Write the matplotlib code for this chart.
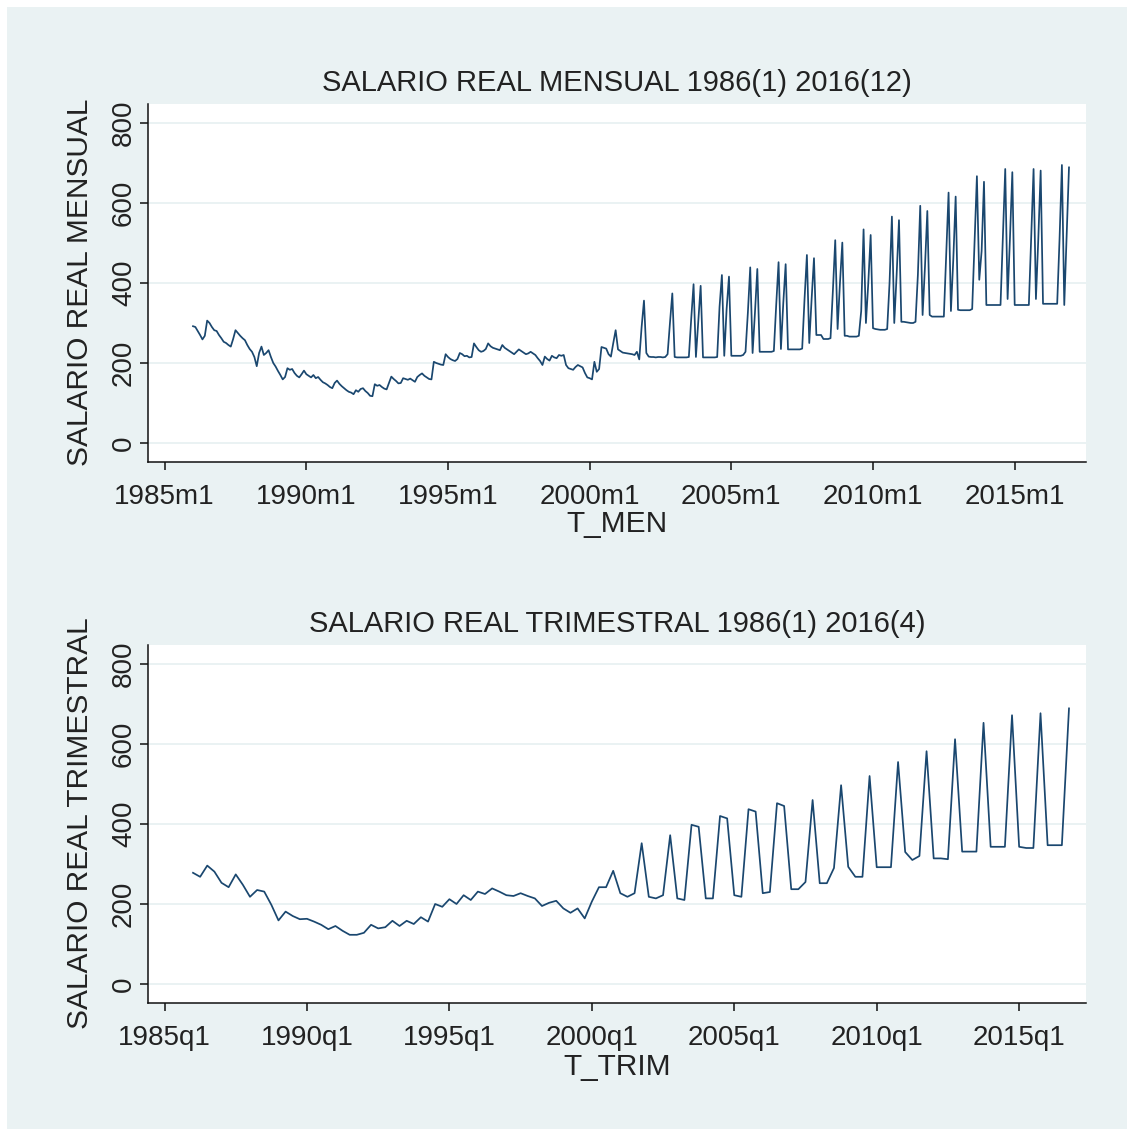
import numpy as np
import matplotlib
matplotlib.use("Agg")
import matplotlib.pyplot as plt
from matplotlib.patches import Rectangle

# monthly real wage, one list per year (Jan..Dec)
men_1986 = [292, 290, 280, 270, 259, 268, 306, 300, 290, 282, 280, 270]
men_1987 = [262, 253, 250, 245, 241, 260, 282, 275, 268, 262, 257, 245]
men_1988 = [235, 228, 215, 192, 225, 241, 220, 225, 232, 215, 200, 191]
men_1989 = [180, 170, 159, 165, 187, 183, 185, 175, 168, 164, 172, 181]
men_1990 = [172, 168, 164, 170, 162, 165, 158, 152, 149, 145, 140, 137]
men_1991 = [150, 156, 148, 142, 137, 132, 128, 126, 122, 132, 128, 135]
men_1992 = [137, 130, 125, 118, 117, 147, 143, 145, 140, 136, 134, 150]
men_1993 = [166, 160, 155, 149, 150, 162, 160, 158, 161, 157, 153, 165]
men_1994 = [170, 174, 168, 164, 160, 159, 203, 200, 198, 196, 195, 222]
men_1995 = [215, 210, 207, 205, 210, 225, 222, 217, 218, 214, 215, 249]
men_1996 = [240, 232, 228, 230, 235, 249, 242, 238, 236, 234, 232, 245]
men_1997 = [238, 234, 230, 226, 222, 228, 234, 230, 226, 222, 224, 228]
men_1998 = [224, 220, 212, 205, 195, 216, 210, 206, 218, 214, 212, 220]
men_1999 = [218, 220, 195, 187, 185, 183, 190, 195, 192, 189, 175, 164]
men_2000 = [162, 159, 203, 178, 185, 240, 238, 236, 222, 216, 250, 282]
men_2001 = [234, 230, 226, 225, 224, 223, 222, 220, 228, 209, 290, 356]
men_2002 = [225, 216, 215, 215, 214, 215, 215, 214, 215, 222, 300, 374]
men_2003 = [215, 214, 214, 214, 214, 214, 215, 310, 397, 215, 305, 393]
men_2004 = [214, 214, 214, 214, 214, 214, 215, 340, 420, 218, 335, 416]
men_2005 = [218, 218, 218, 218, 218, 220, 228, 326, 439, 225, 326, 435]
men_2006 = [228, 228, 228, 228, 228, 228, 230, 345, 452, 235, 350, 447]
men_2007 = [234, 234, 234, 234, 234, 234, 236, 360, 470, 250, 360, 462]
men_2008 = [270, 270, 270, 260, 260, 260, 262, 380, 507, 285, 400, 501]
men_2009 = [268, 268, 266, 266, 266, 266, 268, 330, 534, 300, 400, 520]
men_2010 = [287, 285, 284, 283, 283, 283, 285, 400, 566, 300, 420, 557]
men_2011 = [303, 303, 302, 301, 300, 300, 303, 420, 593, 320, 440, 580]
men_2012 = [320, 316, 316, 316, 316, 316, 316, 470, 626, 330, 459, 616]
men_2013 = [333, 332, 332, 332, 332, 332, 335, 499, 667, 408, 480, 653]
men_2014 = [345, 345, 345, 345, 345, 345, 345, 512, 685, 360, 512, 677]
men_2015 = [345, 345, 345, 345, 345, 345, 345, 515, 685, 360, 510, 681]
men_2016 = [348, 348, 348, 348, 348, 348, 348, 510, 695, 345, 520, 689]

# quarterly real wage (q1..q4 per year)
trim_1986_1995 = [278, 268, 296, 281,  253, 242, 274, 248,  218, 235, 231, 198,
                  159, 181, 170, 162,  163, 156, 148, 137,  145, 133, 123, 123,
                  128, 148, 139, 142,  158, 145, 158, 150,  167, 156, 200, 193,
                  212, 200, 222, 210]
trim_1996_2005 = [231, 225, 239, 231,  222, 220, 227, 220,  214, 195, 203, 208,
                  189, 178, 189, 164,  206, 242, 242, 283,  227, 218, 227, 352,
                  218, 214, 222, 372,  214, 210, 398, 393,  214, 214, 420, 414,
                  222, 218, 437, 431]
trim_2006_2016 = [227, 230, 452, 445,  237, 237, 255, 460,  252, 252, 290, 497,
                  293, 268, 268, 520,  292, 292, 292, 555,  330, 310, 320, 582,
                  314, 314, 312, 612,  331, 331, 331, 653,  343, 343, 343, 672,
                  343, 340, 340, 677,  347, 347, 347, 689]

y_ticks = [0, 200, 400, 600, 800]
x_years = [1985, 1990, 1995, 2000, 2005, 2010, 2015]

men = np.concatenate([men_1986, men_1987, men_1988, men_1989, men_1990, men_1991,
                      men_1992, men_1993, men_1994, men_1995, men_1996, men_1997,
                      men_1998, men_1999, men_2000, men_2001, men_2002, men_2003,
                      men_2004, men_2005, men_2006, men_2007, men_2008, men_2009,
                      men_2010, men_2011, men_2012, men_2013, men_2014, men_2015,
                      men_2016])
trim = np.concatenate([trim_1986_1995, trim_1996_2005, trim_2006_2016])
t_men = 1986 + np.arange(len(men)) / 12.0
t_trim = 1986 + np.arange(len(trim)) / 4.0

W, H = 1134, 1136
BG = '#EAF2F3'
LINE = '#1A476F'
TXT = '#222222'
plt.rcParams['font.family'] = ['Liberation Sans', 'DejaVu Sans']

fig = plt.figure(figsize=(W / 100, H / 100), dpi=100, facecolor='white')
fig.patches.append(Rectangle((7 / W, 7 / H), 1120 / W, 1122 / H, transform=fig.transFigure,
                             facecolor=BG, edgecolor='none', zorder=-1))


def panel(top_px, t, vals, xlim, suffix, title, ylabel, xlabel, xlab_off):
    ax = fig.add_axes([148 / W, 1 - (top_px + 358) / H, 938 / W, 358 / H])
    ax.set_facecolor('white')
    ax.plot(t, vals, color=LINE, lw=1.25, zorder=3)
    ax.set_xlim(*xlim)
    ax.set_ylim(-47.5, 847.5)
    ax.set_yticks(y_ticks)
    ax.set_yticklabels([str(v) for v in y_ticks], rotation=90, va='center')
    ax.set_xticks(x_years)
    ax.set_xticklabels([f'{y}{suffix}1' for y in x_years])
    ax.grid(axis='y', color=BG, lw=1.4, zorder=0)
    for s in ['top', 'right']:
        ax.spines[s].set_visible(False)
    for s in ['left', 'bottom']:
        ax.spines[s].set_color('#111111')
        ax.spines[s].set_linewidth(1.1)
    ax.tick_params(axis='both', length=6, width=1.1, color='#111111',
                   labelsize=20, labelcolor=TXT)
    ax.tick_params(axis='x', pad=10)
    ax.tick_params(axis='y', pad=2)
    cx = (148 + 1086) / 2 / W
    fig.text(cx, 1 - (top_px - 21) / H, title, ha='center', va='center',
             fontsize=21, color=TXT)
    fig.text(80 / W, 1 - (top_px + 178) / H, ylabel, ha='center', va='center',
             rotation=90, fontsize=21.5, color=TXT)
    fig.text(cx, 1 - (top_px + xlab_off) / H, xlabel, ha='center', va='center',
             fontsize=21.5, color=TXT)
    return ax


panel(104, t_men, men, (1984.412, 2017.517), 'm',
      'SALARIO REAL MENSUAL 1986(1) 2016(12)', 'SALARIO REAL MENSUAL', 'T_MEN', 420)
panel(645, t_trim, trim, (1984.42, 2017.347), 'q',
      'SALARIO REAL TRIMESTRAL 1986(1) 2016(4)', 'SALARIO REAL TRIMESTRAL', 'T_TRIM', 422)

fig.savefig('out.png', dpi=100, facecolor='white')
